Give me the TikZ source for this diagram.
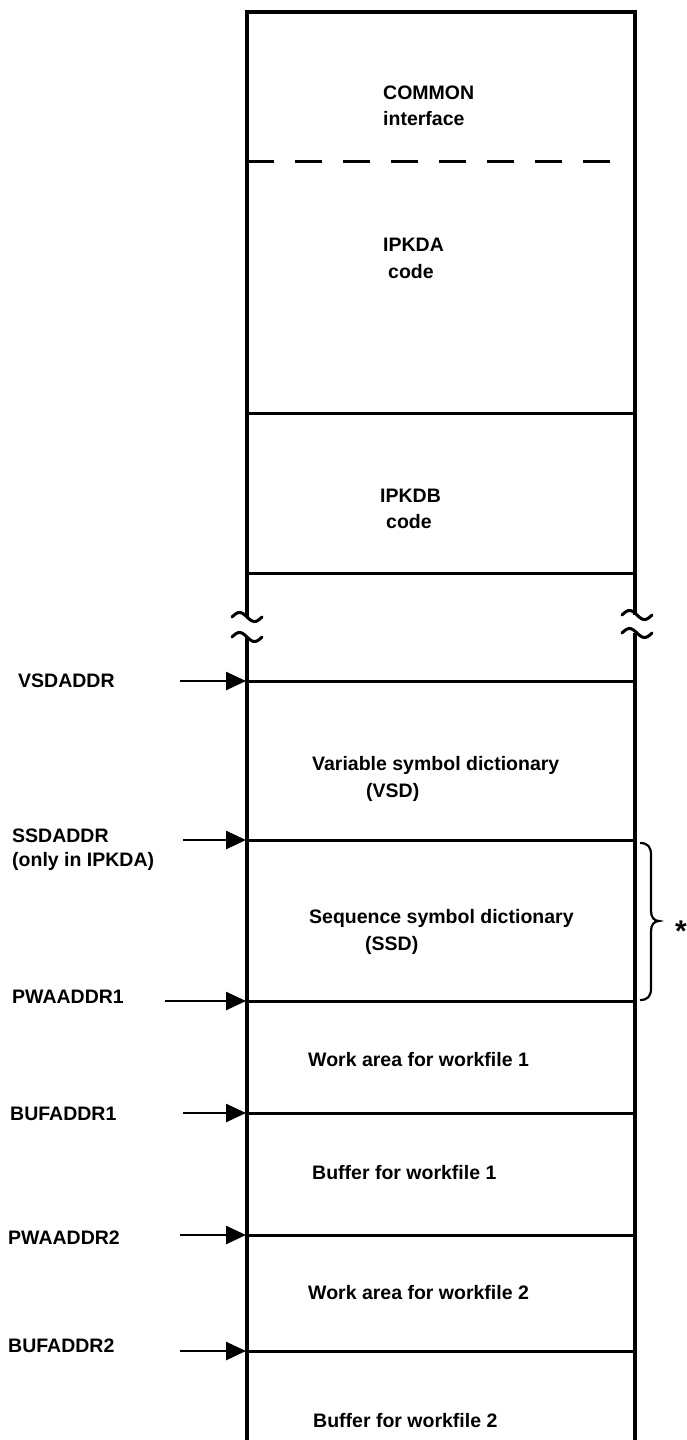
\documentclass[tikz,border=0pt]{standalone}
\usepackage{fontspec}
\setmainfont{Liberation Sans}
\usetikzlibrary{arrows.meta}
\begin{document}
\begin{tikzpicture}[x=1pt,y=-1pt,
  frame/.style={line width=3.2pt},
  sep/.style={line width=3pt},
  ptr/.style={line width=2.6pt,-{Triangle[length=20pt,width=18pt]}},
  lab/.style={anchor=base west,inner sep=0pt,font=\fontsize{19.5}{22}\selectfont\bfseries},
  brk/.style={line width=3pt,line cap=round},
  bracestyle/.style={line width=2.2pt}]
\useasboundingbox (0,0) rectangle (687,1440);
% frame coordinates
\coordinate (TL) at (247,12);
\coordinate (TR) at (635,12);
\coordinate (LU) at (247,617);
\coordinate (LL) at (247,637);
\coordinate (RU) at (635,615);
\coordinate (RL) at (635,633);
\coordinate (LB) at (247,1440);
\coordinate (RB) at (635,1440);
% frame
\draw[frame] (LU) -- (TL) -- (TR) -- (RU);
\draw[frame] (LL) -- (LB);
\draw[frame] (RL) -- (RB);
% break marks
\foreach \cx/\cy in {247/617, 247/637, 637/615, 637/633}{
  \draw[brk] plot[domain=-1:1,samples=25,smooth] ({\cx+15*\x},{\cy+4.5*sin(180*\x)});
}
% dashed separator
\draw[sep,dash pattern=on 27pt off 21pt] (247,161) -- (620,161);
% solid separators
\foreach \yy in {413,573,681,840,1001,1113,1235,1351}{
  \draw[sep] (247,\yy) -- (635,\yy);
}
% inner texts
\node[lab] (common) at (383,99) {COMMON};
\node[lab] (iface) at (383,125) {interface};
\node[lab] (ipkda) at (383,251) {IPKDA};
\node[lab] (codea) at (388,278) {code};
\node[lab] (ipkdb) at (380,502) {IPKDB};
\node[lab] (codeb) at (386,528) {code};
\node[lab] (vsd) at (312,770) {Variable symbol dictionary};
\node[lab] (vsdab) at (366,797) {(VSD)};
\node[lab] (ssd) at (309,923) {Sequence symbol dictionary};
\node[lab] (ssdab) at (365,950) {(SSD)};
\node[lab] (wa1) at (308,1066) {Work area for workfile 1};
\node[lab] (bf1) at (312,1179) {Buffer for workfile 1};
\node[lab] (wa2) at (308,1299) {Work area for workfile 2};
\node[lab] (bf2) at (313,1427) {Buffer for workfile 2};
% left labels
\node[lab] (lvsd) at (18,687) {VSDADDR};
\node[lab] (lssd) at (12,842) {SSDADDR};
\node[lab] (lonly) at (12,866) {(only in IPKDA)};
\node[lab] (lpwa1) at (12,1003) {PWAADDR1};
\node[lab] (lbuf1) at (10,1120) {BUFADDR1};
\node[lab] (lpwa2) at (8,1244) {PWAADDR2};
\node[lab] (lbuf2) at (8,1352) {BUFADDR2};
% arrows
\foreach \nm/\xs/\yy in {a/180/681, b/183/840, c/165/1001, d/183/1113, e/180/1235, f/180/1351}{
  \coordinate (t\nm) at (\xs,\yy);
  \coordinate (h\nm) at (246,\yy);
  \draw[ptr] (t\nm) -- (h\nm);
}
% brace
\coordinate (bt) at (640,843);
\coordinate (bb) at (640,1000);
\draw[bracestyle] (bt) .. controls (648,843) and (651,847) .. (651,855) -- (651,911)
  .. controls (651,917) and (654,921) .. (659,921)
  .. controls (654,921) and (651,925) .. (651,931) -- (651,988)
  .. controls (651,996) and (648,1000) .. (bb);
\node[anchor=base,inner sep=0pt,font=\fontsize{30}{32}\selectfont\bfseries] (star) at (681,941) {*};
\end{tikzpicture}
\end{document}
